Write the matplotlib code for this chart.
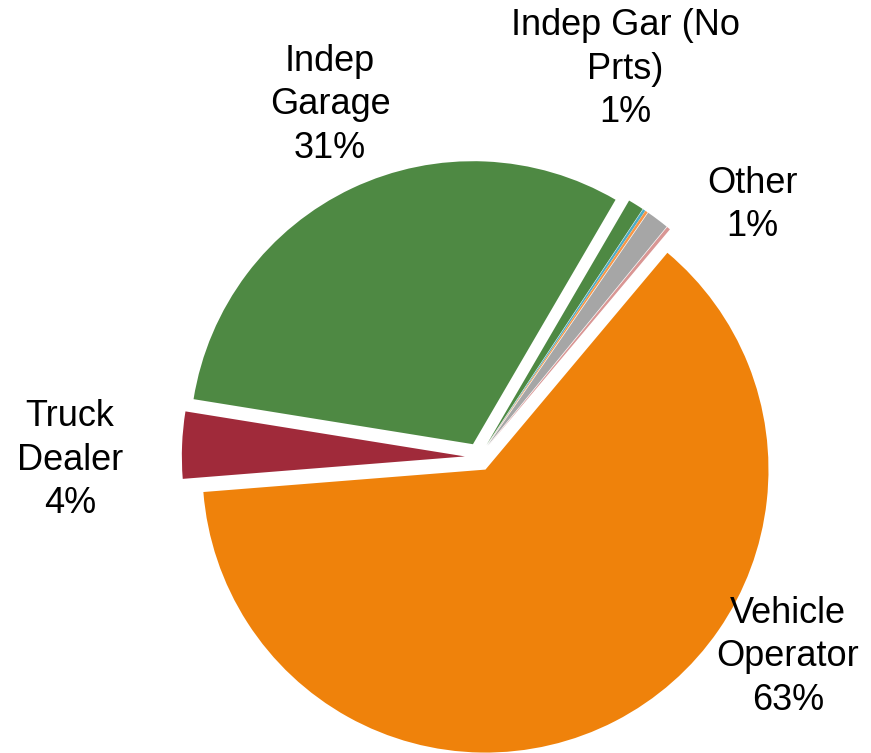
import matplotlib.pyplot as plt

plt.rcParams['font.family'] = ['Liberation Sans', 'DejaVu Sans']

# slices in drawing order (clockwise from the top right)
categories = ['Vehicle Operator', 'Truck Dealer', 'Indep Garage', 'Indep Gar (No Prts)',
              'Minor A', 'Minor B', 'Other', 'Minor C']
shares = [62.5, 3.8, 30.8, 0.9, 0.15, 0.15, 1.3, 0.2]
colors = ['#EF820B', '#A02A3A', '#4E8943', '#4E8943', '#4BACC6', '#F79646', '#A6A6A6', '#D99694']
explode = [0.05] * len(shares)

# visible labels: text and where it sits
label_text = ['Vehicle\nOperator\n63%', 'Truck\nDealer\n4%', 'Indep\nGarage\n31%',
              'Indep Gar (No\nPrts)\n1%', 'Other\n1%']
label_px = [(788, 657), (70, 460), (330, 105), (625, 69), (752, 205)]

W, H = 871, 753
R = 283.0
cx, cy = 479, 457

fig = plt.figure(figsize=(W / 100, H / 100), dpi=100)
ax = fig.add_axes([0, 0, 1, 1])
ax.pie(shares, colors=colors, explode=explode, startangle=50, counterclock=False,
       radius=1.0, wedgeprops=dict(linewidth=0))

for txt, (px, py) in zip(label_text, label_px):
    ax.text((px - cx) / R, (cy - py) / R, txt, ha='center', va='center',
            multialignment='center', fontsize=26, linespacing=1.33, color='black')

ax.set_xlim(-cx / R, (W - cx) / R)
ax.set_ylim(-(H - cy) / R, cy / R)
ax.set_aspect('equal')
ax.axis('off')

fig.savefig('out.png', dpi=100)
